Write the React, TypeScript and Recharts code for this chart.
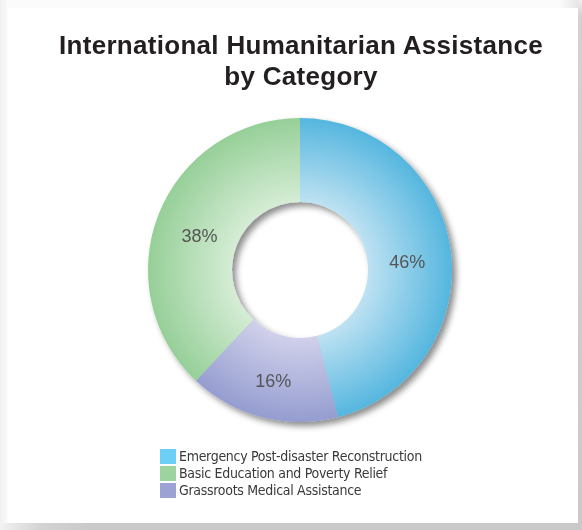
import { PieChart, Pie, Cell, Legend, Sector } from 'recharts';

const categories = [
  'Emergency Post-disaster Reconstruction',
  'Grassroots Medical Assistance',
  'Basic Education and Poverty Relief',
];
const shares = [46, 16, 38];

// legend swatches, in the order the legend lists them
const legendOrder = [
  'Emergency Post-disaster Reconstruction',
  'Basic Education and Poverty Relief',
  'Grassroots Medical Assistance',
];
const swatchColors = ['#6dcff6', '#9dd39f', '#9ca3d4'];

// radial gradient per slice: light near the hole, darker at the rim
const innerColors = ['#c3e4f3', '#d3d3ec', '#d8eed8'];
const outerColors = ['#55b6df', '#959dd0', '#96cf98'];

const pieData = categories.map((name, i) => ({ name, value: shares[i] }));

const GradientSector = (props: any) => {
  const i = categories.indexOf(props.name);
  const id = `slice-grad-${i}`;
  return (
    <g>
      <defs>
        <radialGradient
          id={id}
          gradientUnits="userSpaceOnUse"
          cx={props.cx}
          cy={props.cy}
          r={props.outerRadius}
        >
          <stop offset="0.42" stopColor={innerColors[i]} />
          <stop offset="1" stopColor={outerColors[i]} />
        </radialGradient>
      </defs>
      <Sector {...props} fill={`url(#${id})`} stroke="none" />
    </g>
  );
};

const RADIAN = Math.PI / 180;
const renderLabel = (p: any) => {
  const r = (p.innerRadius + p.outerRadius) / 2 - 2;
  const x = p.cx + r * Math.cos(-p.midAngle * RADIAN);
  const y = p.cy + r * Math.sin(-p.midAngle * RADIAN);
  return (
    <text
      x={x}
      y={y + 6}
      fill="#555"
      fontSize={18}
      fontFamily="'Liberation Sans', Arial, sans-serif"
      textAnchor="middle"
      dominantBaseline="central"
    >
      {`${p.value}%`}
    </text>
  );
};

const LegendList = () => (
  <div
    style={{
      fontFamily: "'DejaVu Sans Condensed', 'Liberation Sans Narrow', sans-serif",
      fontSize: 14,
      letterSpacing: -0.3,
      color: '#3a3a3a',
    }}
  >
    {legendOrder.map((name, i) => (
      <div key={name} style={{ display: 'flex', alignItems: 'center', height: 17 }}>
        <span style={{ display: 'inline-block', width: 16, height: 15, background: swatchColors[i], marginRight: 3 }} />
        <span style={{ lineHeight: '17px' }}>{name}</span>
      </div>
    ))}
  </div>
);

export default function App() {
  return (
    <div
      style={{
        position: 'fixed',
        left: 0,
        top: 0,
        width: 582,
        height: 530,
        background: 'linear-gradient(to right, #f0f0f0 0px, #fbfbfb 8px, #fbfbfb 560px, #e6e6e6 578px)',
      }}
    >
      <style>{`.donut .recharts-pie > .recharts-layer:first-child { filter: url(#donutShadow); }`}</style>
      {/* card shadow strips, right and bottom */}
      <div
        style={{
          position: 'absolute',
          left: 578,
          top: 0,
          width: 4,
          height: 530,
          background: 'linear-gradient(to bottom, #f0f0f0 0px, #d2d2d2 16px, #c9c9c9 100%)',
        }}
      />
      <div
        style={{
          position: 'absolute',
          left: 0,
          top: 523,
          width: 582,
          height: 7,
          background: 'linear-gradient(to right, #f2f2f2 0px, #d4d4d4 40px, #c9c9c9 90px, #c9c9c9 100%)',
        }}
      />
      <div
        style={{
          position: 'absolute',
          left: 8,
          top: 8,
          width: 570,
          height: 515,
          background: '#fff',
        }}
      >
        <div
          style={{
            position: 'absolute',
            top: 22,
            left: 8,
            width: 570,
            textAlign: 'center',
            fontFamily: "'Liberation Sans', Arial, sans-serif",
            fontWeight: 'bold',
            fontSize: 26,
            letterSpacing: 0.3,
            lineHeight: '31px',
            color: '#231f20',
          }}
        >
          International Humanitarian Assistance
          <br />
          by Category
        </div>
        <PieChart
          width={570}
          height={515}
          margin={{ top: 0, right: 0, bottom: 0, left: 0 }}
          className="donut"
          style={{ position: 'absolute', top: 0, left: 0 }}
        >
          <defs>
            <filter id="donutShadow" x="-20%" y="-20%" width="140%" height="140%">
              <feDropShadow dx="4" dy="4" stdDeviation="3" floodColor="#000" floodOpacity="0.45" />
            </filter>
          </defs>
          <Pie
            data={pieData}
            dataKey="value"
            nameKey="name"
            cx={292}
            cy={262}
            innerRadius={68}
            outerRadius={152}
            startAngle={90}
            endAngle={-270}
            stroke="none"
            shape={GradientSector}
            label={renderLabel}
            labelLine={false}
            isAnimationActive={false}
          >
            {pieData.map((d, i) => (
              <Cell key={d.name} fill={outerColors[i]} />
            ))}
          </Pie>
          <Legend
            layout="horizontal"
            align="center"
            verticalAlign="middle"
            content={<LegendList />}
            wrapperStyle={{ top: 440, left: 152, width: 'auto', height: 'auto' }}
          />
        </PieChart>
      </div>
    </div>
  );
}
